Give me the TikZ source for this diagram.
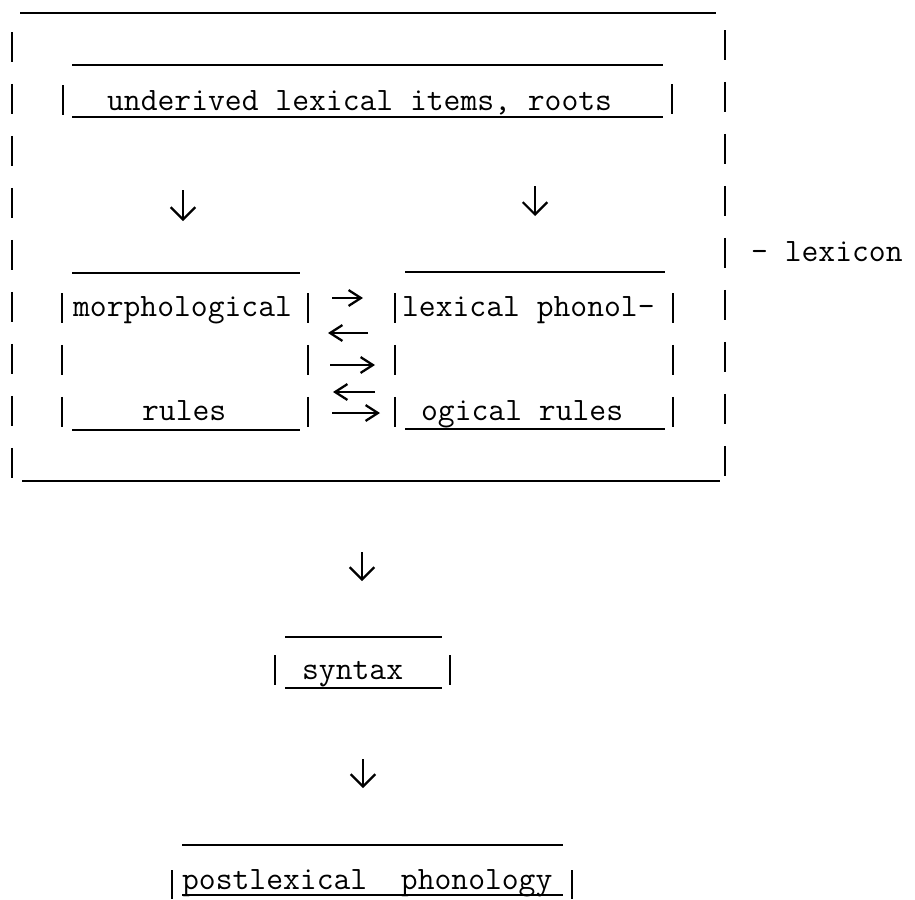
\documentclass[tikz,border=0pt]{standalone}
\usetikzlibrary{arrows.meta}
\begin{document}
\begin{tikzpicture}[x=0.02cm, y=-0.02cm, line width=1.3pt,
  typed/.style={anchor=base west, inner sep=0pt, font=\ttfamily\fontsize{18.6}{22}\selectfont},
  bars/.style={dash pattern=on 17.07pt off 12.52pt},
  down/.style={-{Straight Barb[length=7pt,width=14pt]}},
  side/.style={-{Straight Barb[length=7pt,width=9pt]}}]
\useasboundingbox (0,0) rectangle (915,899);
\begin{scope}[every node/.style={typed}]
\node (under) at (106,110) {underived lexical items, roots};
\node (morph) at (72,316) {morphological};
\node (lexph) at (401,316) {lexical phonol-};
\node (rules) at (141,420) {rules};
\node (ogic) at (420,420) {ogical rules};
\node (lexicon) at (750,261) {- lexicon};
\node (syn) at (301,679) {syntax};
\node (post) at (181,889) {postlexical\ \ phonology};
\end{scope}
% lexicon frame
\draw (20,13) -- (716,13) (22,481) -- (720,481);
\draw [bars] (12,32) -- (12,478) (725,30) -- (725,476);
\draw (72,65) -- (663,65) (72,117) -- (663,117);
\draw (63,85) -- (63,115) (672,84) -- (672,114);
\draw (72,273) -- (300,273) (72,430) -- (300,430);
\draw (405,272) -- (665,272) (405,429) -- (665,429);
\draw [bars] (62,293) -- (62,427) (308,293) -- (308,427) (395,293) -- (395,427) (673,293) -- (673,427);
% syntax, postlexical
\draw (285,637) -- (442,637) (285,688) -- (442,688);
\draw (275,655) -- (275,685) (450,655) -- (450,685);
\draw (182,845) -- (563,845) (182,895) -- (563,895);
\draw (172,870) -- (172,899) (572,870) -- (572,899);
\coordinate (d1a) at (183,190); \coordinate (d1b) at (183,221);
\coordinate (d2a) at (535,186); \coordinate (d2b) at (535,216);
\coordinate (d3a) at (362,552); \coordinate (d3b) at (362,581);
\coordinate (d4a) at (363,759); \coordinate (d4b) at (363,788);
\coordinate (m1) at (332,298); \coordinate (l1) at (363,298);
\coordinate (l2) at (368,333); \coordinate (m2) at (328,333);
\coordinate (m3) at (330,365); \coordinate (l3) at (375,365);
\coordinate (l4) at (375,392); \coordinate (m4) at (333,392);
\coordinate (m5) at (332,413); \coordinate (l5) at (380,413);
\draw [down] (d1a) -- (d1b);
\draw [down] (d2a) -- (d2b);
\draw [down] (d3a) -- (d3b);
\draw [down] (d4a) -- (d4b);
\draw [side] (m1) -- (l1);
\draw [side] (l2) -- (m2);
\draw [side] (m3) -- (l3);
\draw [side] (l4) -- (m4);
\draw [side] (m5) -- (l5);
\end{tikzpicture}
\end{document}
